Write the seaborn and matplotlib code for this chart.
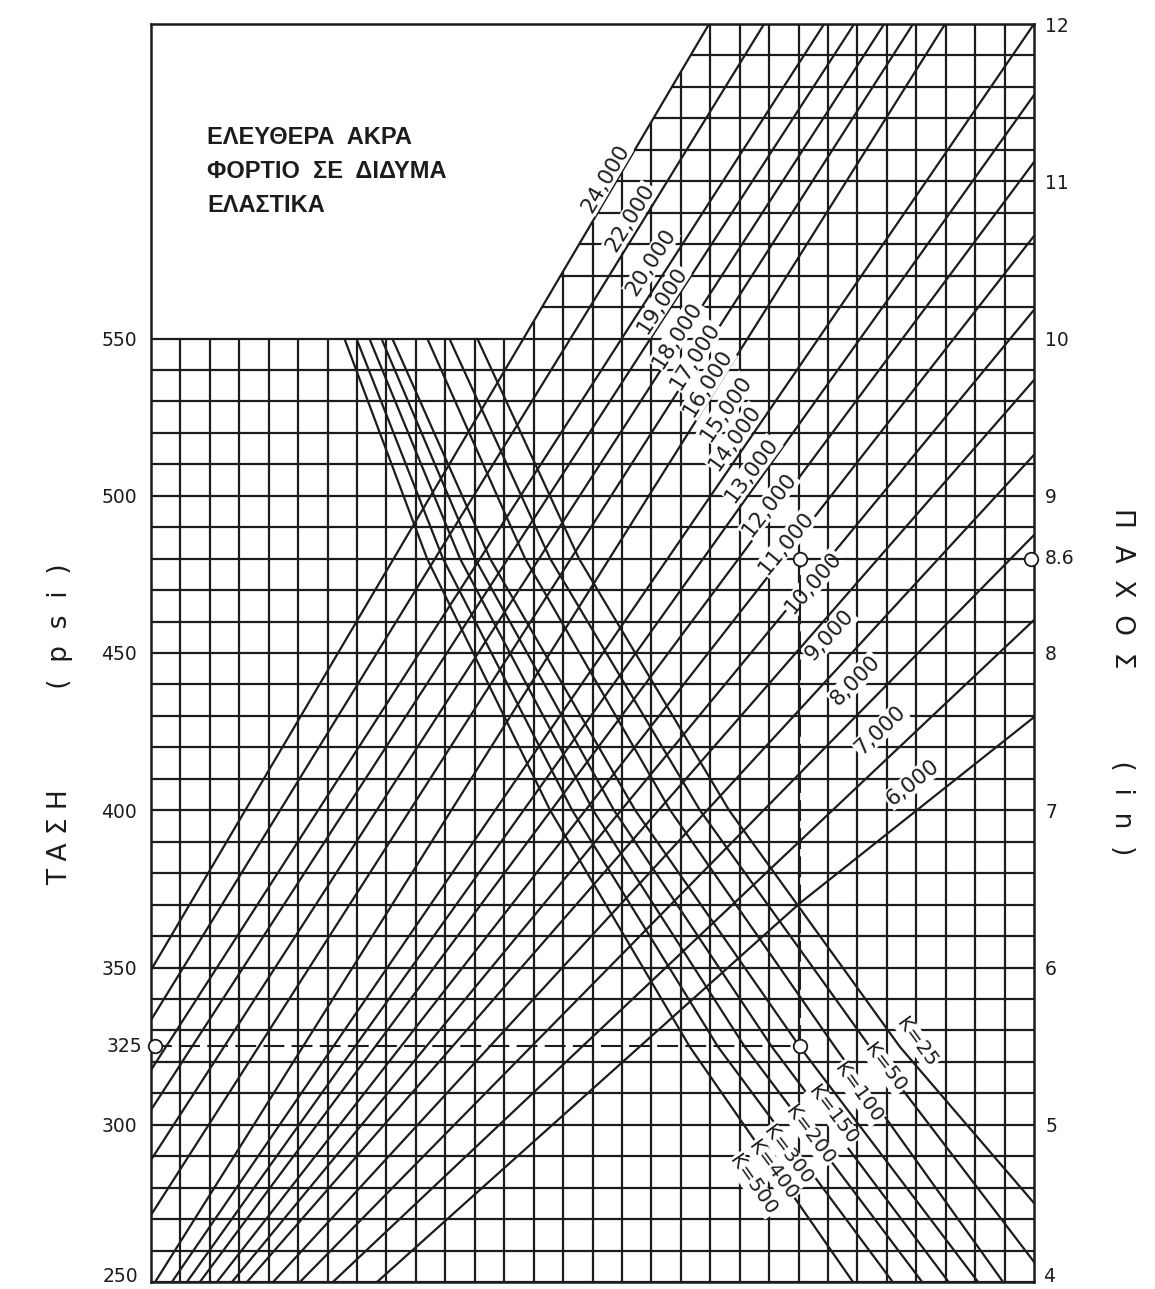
import numpy as np
import pandas as pd
import matplotlib
matplotlib.use("Agg")
import matplotlib.pyplot as plt
import seaborn as sns

# wheel load lines (lb): points as (grid cell, stress psi)
loads = ['24,000', '22,000', '20,000', '19,000', '18,000', '17,000', '16,000', '15,000',
         '14,000', '13,000', '12,000', '11,000', '10,000', '9,000', '8,000', '7,000', '6,000']
load_cells = [[0.0, 18.96], [0.0, 20.83], [0.0, 22.87], [0.0, 23.89], [0.0, 24.91],
              [0.0, 25.89], [0.14, 26.98], [0.71, 30.0], [1.22, 30.0], [1.66, 30.0],
              [2.24, 30.0], [2.75, 30.0], [3.26, 30.0], [4.15, 30.0], [5.06, 30.0],
              [6.18, 30.0], [7.68, 22.05, 30.0]]
load_psi = [[349.2, 650.0], [333.3, 650.0], [317.4, 650.0], [304.7, 650.0], [288.8, 650.0],
            [271.3, 650.0], [250.0, 650.0], [250.0, 650.0], [250.0, 627.4], [250.0, 606.1],
            [250.0, 582.6], [250.0, 559.1], [250.0, 536.8], [250.0, 513.0], [250.0, 487.5],
            [250.0, 460.5], [250.0, 370.5, 429.6]]

# subgrade modulus curves
k_names = ['K=25', 'K=50', 'K=100', 'K=150', 'K=200', 'K=300', 'K=400', 'K=500']
k_cells = [[11.11, 14.54, 19.64, 25.45, 30.0],
           [10.16, 13.56, 18.65, 24.43, 30.0],
           [9.41, 12.71, 17.64, 23.24, 28.95],
           [8.22, 11.52, 16.45, 22.05, 28.1],
           [7.85, 11.01, 15.73, 21.1, 27.1],
           [7.44, 10.5, 15.02, 20.18, 26.2],
           [7.0, 9.92, 14.31, 19.27, 25.2],
           [6.59, 9.38, 13.56, 18.31, 23.85]]
k_psi = [[549.5, 480, 400, 324.7, 275.1],
         [549.5, 480, 400, 324.7, 256.4],
         [549.5, 480, 400, 324.7, 250.0],
         [549.5, 480, 400, 324.7, 250.0],
         [549.5, 480, 400, 324.7, 250.0],
         [549.5, 480, 400, 324.7, 250.0],
         [549.5, 480, 400, 324.7, 250.0],
         [549.5, 480, 400, 324.7, 250.0]]

# worked example: 325 psi -> 8.6 in
ex_stress = 325
ex_cell = 22.05
ex_thick = 8.6

left_ticks = [250, 300, 350, 400, 450, 500, 550]
right_ticks = [4, 5, 6, 7, 8, 9, 10, 11, 12]
title_lines = ['ΕΛΕΥΘΕΡΑ  ΑΚΡΑ', 'ΦΟΡΤΙΟ  ΣΕ  ΔΙΔΥΜΑ', 'ΕΛΑΣΤΙΚΑ']

# label anchor positions (cell, psi)
load_lab_pos = [(15.43, 601.0), (16.28, 588.3), (16.99, 574.3), (17.36, 562.2), (17.87, 551.1),
                (18.48, 544.4), (18.93, 535.9), (19.54, 527.9), (19.84, 518.4), (20.42, 508.2),
                (21.0, 497.1), (21.58, 485.0), (22.49, 472.3), (23.07, 455.7), (23.92, 441.4),
                (24.77, 425.5), (25.86, 408.7)]
k_lab_pos = [(26.03, 326.3), (24.94, 318.0), (24.02, 310.1), (23.17, 303.1),
             (22.39, 296.7), (21.64, 290.4), (21.13, 285.6), (20.46, 280.8)]

ink = '#1c1c1c'
lw = 1.6

sns.set_theme(style='white')
plt.rcParams['font.family'] = ['DejaVu Sans']

fig = plt.figure(figsize=(11.55, 12.89), dpi=100)
ax = fig.add_axes([151 / 1155, 1 - 1282 / 1289, 883 / 1155, 1258 / 1289])
ax.set_xlim(0, 30)
ax.set_ylim(250, 650)

# grid, clipped by the 24,000 line above 550 psi
c24 = np.array(load_cells[0])
p24 = np.array(load_psi[0])
for p in range(250, 651, 10):
    x0 = 0 if p <= 550 else np.interp(p, p24, c24)
    ax.plot([x0, 30], [p, p], color=ink, lw=lw, solid_capstyle='butt', zorder=1)
for c in range(1, 30):
    top = max(550, min(650, np.interp(c, c24, p24)))
    ax.plot([c, c], [250, top], color=ink, lw=lw, solid_capstyle='butt', zorder=1)


def to_frame(names, cells, psis):
    rows = []
    for name, cs, ps in zip(names, cells, psis):
        for c, p in zip(cs, ps):
            rows.append({'line': name, 'cell': c, 'psi': p})
    return pd.DataFrame(rows)


df_load = to_frame(loads, load_cells, load_psi)
df_k = to_frame(k_names, k_cells, k_psi)

sns.lineplot(data=df_load, x='cell', y='psi', units='line', estimator=None, sort=False,
             color=ink, lw=lw, ax=ax, legend=False, zorder=2)
sns.lineplot(data=df_k, x='cell', y='psi', units='line', estimator=None, sort=False,
             color=ink, lw=lw, ax=ax, legend=False, zorder=2)


def angle_at(cs, ps, pos):
    # slope of the segment nearest to the label, in screen space
    lo, hi = min(ps), max(ps)
    py = min(max(pos[1], lo), hi)
    i = 0
    for j in range(len(ps) - 1):
        if min(ps[j], ps[j + 1]) <= py <= max(ps[j], ps[j + 1]):
            i = j
            break
    a = ax.transData.transform((cs[i], ps[i]))
    b = ax.transData.transform((cs[i + 1], ps[i + 1]))
    ang = np.degrees(np.arctan2(b[1] - a[1], b[0] - a[0]))
    if ang > 90:
        ang -= 180
    if ang < -90:
        ang += 180
    return ang


box = dict(facecolor='white', edgecolor='none', pad=0.6)
for name, cs, ps, pos in zip(loads, load_cells, load_psi, load_lab_pos):
    ax.text(pos[0], pos[1], name, rotation=angle_at(cs, ps, pos), rotation_mode='anchor',
            ha='center', va='center', fontsize=15.5, color=ink, bbox=box, zorder=3)
for name, cs, ps, pos in zip(k_names, k_cells, k_psi, k_lab_pos):
    ax.text(pos[0], pos[1], name, rotation=angle_at(cs, ps, pos), rotation_mode='anchor',
            ha='center', va='center', fontsize=14.5, color=ink, bbox=box, zorder=3)

# worked example
ex_p = 250 + (ex_thick - 4) * 50
dash = dict(color=ink, lw=1.5, dashes=(10, 3.5), zorder=4)
ax.plot([0, ex_cell], [ex_stress, ex_stress], **dash)
ax.plot([ex_cell, ex_cell], [ex_stress, ex_p], **dash)
ax.plot([ex_cell, 30], [ex_p, ex_p], **dash)
ax.scatter([0.15, ex_cell, ex_cell, 29.9], [ex_stress, ex_stress, ex_p, ex_p], s=95,
           facecolor='white', edgecolor=ink, lw=1.3, zorder=5, clip_on=False)

# axes frame and ticks
for s in ax.spines.values():
    s.set_visible(True)
    s.set_color(ink)
    s.set_linewidth(1.8)
ax.set_xticks([])
ax.set_yticks(left_ticks[1:])
ax.set_yticklabels([str(t) for t in left_ticks[1:]])
ax.tick_params(axis='y', length=0, pad=10, labelsize=13.5, colors=ink)
ax.text(-0.45, left_ticks[0], str(left_ticks[0]), ha='right', va='baseline',
        fontsize=13.5, color=ink)
ax.text(-0.3, ex_stress, str(ex_stress), ha='right', va='center', fontsize=13.5, color=ink)
ax.set_xlabel('')
ax.set_ylabel('')
ax.grid(False)

ax2 = ax.twinx()
ax2.set_xlim(0, 30)
ax2.set_ylim(4, 12)
ax2.set_yticks(right_ticks[1:])
ax2.set_yticklabels([str(t) for t in right_ticks[1:]])
ax2.tick_params(axis='y', length=0, pad=8, labelsize=13.5, colors=ink)
ax2.text(30.3, right_ticks[0], str(right_ticks[0]), ha='left', va='baseline',
         fontsize=13.5, color=ink)
ax2.text(30.35, ex_thick, str(ex_thick), ha='left', va='center', fontsize=13.5, color=ink)
for s in ax2.spines.values():
    s.set_visible(False)
ax2.grid(False)

for i, t in enumerate(title_lines):
    ax.text(1.9, 614 - i * 10.9, t, ha='left', va='center', fontsize=17,
            fontweight='bold', family=['Liberation Sans', 'DejaVu Sans'], color=ink)

fig.text(60 / 1155, 1 - 724 / 1289, 'Τ Α Σ Η' + ' ' * 12 + '(  p  s  i  )', rotation=90,
         ha='center', va='center', fontsize=19, color=ink)
fig.text(1122 / 1155, 1 - 682 / 1289, 'Π  Α  Χ  Ο  Σ' + ' ' * 11 + '(  i  n  )', rotation=270,
         ha='center', va='center', fontsize=19, color=ink)

fig.savefig('out.png', dpi=100)
